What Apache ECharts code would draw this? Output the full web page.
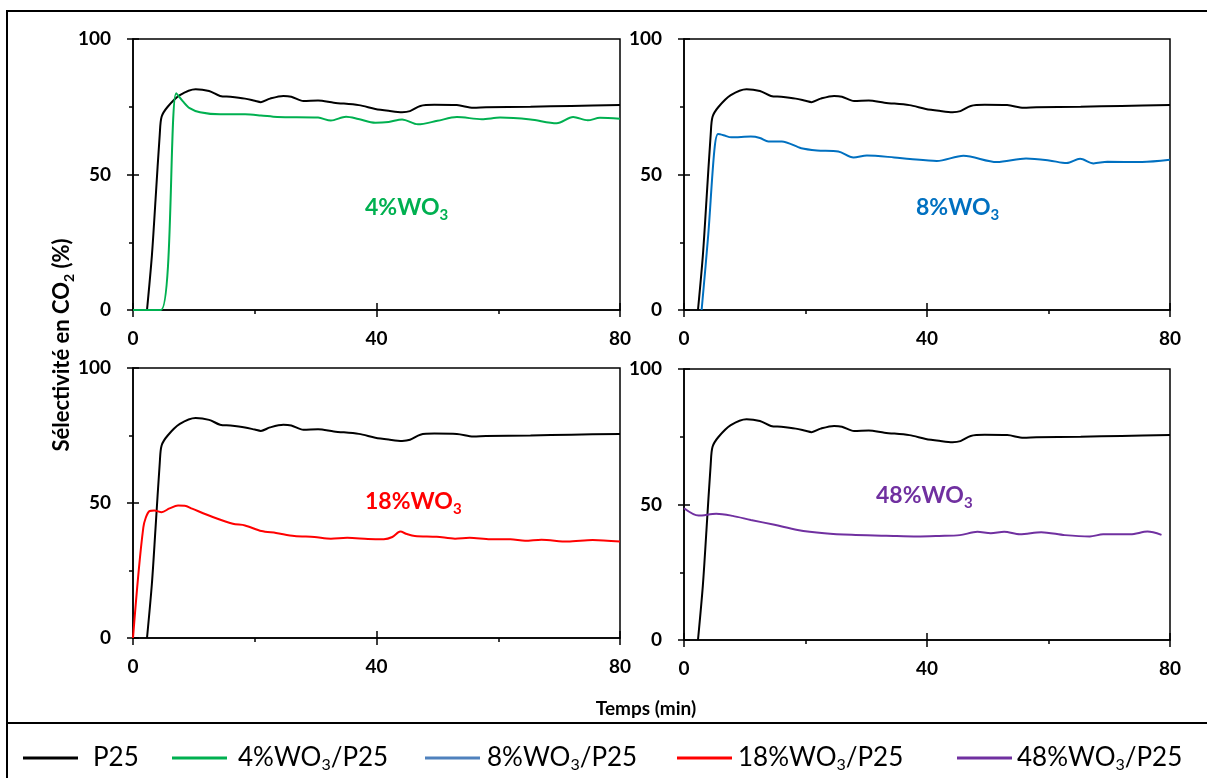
<!DOCTYPE html>
<html><head><meta charset="utf-8">
<script src="https://cdn.jsdelivr.net/npm/echarts@6/dist/echarts.min.js"></script>
<style>html,body{margin:0;padding:0;background:#fff}#c{width:1207px;height:778px}</style>
</head><body><div id="c"></div>
<script>
// ---- data (time in min, selectivity in %) ----
const p25T = [2.3, 3.1, 3.7, 4.4, 4.7, 5.7, 7.7, 10.3, 12.5, 14.3, 16, 18.4, 20, 21, 22.5, 24.7, 26, 28, 30.4, 33, 37.1, 39.8, 42, 44.2, 45.5, 47.2, 49.5, 53.2, 55.9, 58, 65.3, 72, 80];
const p25V = [0, 20, 40.6, 65, 71.3, 75, 79.3, 81.5, 80.8, 79, 78.7, 78, 77.2, 76.7, 78, 79, 78.7, 77.1, 77.3, 76.5, 75.6, 74.2, 73.5, 73, 73.4, 75.3, 75.7, 75.6, 74.6, 74.8, 75, 75.3, 75.6];

const wo4T = [0, 4.6, 7.1, 8.2, 9.3, 11, 14.3, 18.4, 21, 23.7, 30.4, 32.5, 35, 37, 39.8, 42, 44.2, 46.8, 50, 53.2, 57.3, 60.3, 65.3, 69.6, 72.3, 74.7, 76.7, 80];
const wo4V = [0, 0, 80, 77, 74.5, 73, 72.2, 72.2, 71.8, 71.2, 71, 69.9, 71.3, 70.5, 69.1, 69.4, 70.3, 68.5, 69.8, 71.2, 70.4, 71, 70.3, 68.9, 71.2, 70.0, 70.9, 70.6];

const wo8T = [2.9, 4.0, 5.0, 5.6, 6.5, 7.8, 11, 12.5, 13.9, 16.1, 19.3, 21.9, 25.4, 27.9, 30.1, 34.6, 37.2, 41.6, 46, 51.5, 56.3, 60.1, 63, 65.2, 67.4, 69.7, 75.4, 80];
const wo8V = [0, 28, 59, 64.9, 64.5, 63.7, 64, 63.5, 62.2, 62.2, 59.7, 58.9, 58.5, 56.3, 57, 56.3, 55.7, 55, 56.9, 54.6, 55.9, 55.2, 54.2, 55.8, 54.1, 54.7, 54.6, 55.4];

const wo18T = [0, 1.7, 2.7, 3.5, 4.7, 6, 7.4, 8.5, 9.7, 13.1, 16.4, 18.4, 21.1, 23.5, 26.5, 29.8, 32.5, 35.2, 38.6, 41.2, 42.6, 43.9, 45, 46.3, 49.9, 52.9, 55.3, 58.7, 62, 64.4, 67.1, 71.4, 75.5, 80];
const wo18V = [0, 41, 47, 47.2, 46.6, 48, 49.1, 49, 47.9, 44.8, 42.3, 41.7, 39.6, 38.9, 37.8, 37.4, 36.8, 37.1, 36.7, 36.6, 37.4, 39.4, 38.5, 37.8, 37.5, 36.8, 37.1, 36.6, 36.6, 36, 36.4, 35.7, 36.3, 35.7];

const wo48T = [0, 2.4, 5.3, 8, 11, 14.9, 18.7, 23.1, 27.6, 33.3, 38.4, 42, 45.4, 48.3, 50.5, 52.7, 55.3, 58.8, 62.7, 66.8, 69, 73.5, 76.3, 78.6];
const wo48V = [48.6, 45.9, 46.6, 45.8, 44.3, 42.5, 40.6, 39.4, 38.8, 38.5, 38.2, 38.4, 38.7, 39.9, 39.4, 39.9, 39, 39.8, 38.7, 38.2, 39, 39, 40, 38.8];

const seriesNames = ['P25', '4%WO3/P25', '8%WO3/P25', '18%WO3/P25', '48%WO3/P25'];
const panelLabels = ['4%WO3', '8%WO3', '18%WO3', '48%WO3'];
const xMin = 0, xMax = 80, xStep = 40;
const yMin = 0, yMax = 100, yStep = 50;
const yTitle = 'Sélectivité en CO2 (%)';
const xTitle = 'Temps (min)';

// ---- styling / layout ----
const lineColors = ['#000000', '#00B050', '#0070C0', '#FF0000', '#7030A0'];
const legendColors = ['#000000', '#00B050', '#4F81BD', '#FF0000', '#7030A0'];
const labelColors = ['#00B050', '#0070C0', '#FF0000', '#7030A0'];
const grids = [
  {left: 133, top: 39, width: 487, height: 271},
  {left: 684, top: 39, width: 486, height: 271},
  {left: 133, top: 368, width: 487, height: 270},
  {left: 684, top: 369, width: 486, height: 271}
];
const labelPos = [[365, 208], [916, 208], [365, 502], [876, 496]];
const legendLeft = [23, 172, 425, 677, 957];
const legendPad = [10, 6, 2, 1, 0];
const FONT = 'Lato';

const pairs = (t, v) => t.map((x, i) => [x, v[i]]);
const colored = [pairs(wo4T, wo4V), pairs(wo8T, wo8V), pairs(wo18T, wo18V), pairs(wo48T, wo48V)];
const p25 = pairs(p25T, p25V);

function subRich(str) {
  // e.g. "4%WO3/P25" -> rich text with the digit after "WO"/"CO" as subscript
  return '{a|' + str.replace(/(WO|CO)(\d)/g, '$1}{s|$2}{a|') + '}';
}

const axisLineStyle = {color: '#000', width: 1.5};
const tickLabel = {fontFamily: FONT, fontWeight: 'bold', fontSize: 19, color: '#000'};

const xAxes = [], yAxes = [], series = [];
grids.forEach((g, i) => {
  xAxes.push({
    type: 'value', gridIndex: i, min: xMin, max: xMax, interval: xStep, position: 'bottom',
    axisLine: {show: true, onZero: false, lineStyle: axisLineStyle},
    axisTick: {show: true, inside: false, length: 7, lineStyle: axisLineStyle},
    minorTick: {show: true, splitNumber: 2, length: 4, lineStyle: axisLineStyle},
    axisLabel: Object.assign({margin: 19}, tickLabel),
    splitLine: {show: false}, minorSplitLine: {show: false}
  });
  xAxes.push({
    type: 'value', gridIndex: i, min: xMin, max: xMax, interval: xStep, position: 'bottom',
    axisLine: {show: false, onZero: false},
    axisTick: {show: true, inside: true, length: 7, lineStyle: axisLineStyle},
    axisLabel: {show: false}, splitLine: {show: false}
  });
  yAxes.push({
    type: 'value', gridIndex: i, min: yMin, max: yMax, interval: yStep, position: 'left',
    axisLine: {show: true, onZero: false, lineStyle: axisLineStyle},
    axisTick: {show: true, inside: false, length: 6, lineStyle: axisLineStyle},
    minorTick: {show: true, splitNumber: 2, length: 4, lineStyle: axisLineStyle},
    axisLabel: Object.assign({margin: 22}, tickLabel),
    splitLine: {show: false}, minorSplitLine: {show: false}
  });
  yAxes.push({
    type: 'value', gridIndex: i, min: yMin, max: yMax, interval: yStep, position: 'left',
    axisLine: {show: false, onZero: false},
    axisTick: {show: true, inside: true, length: 6, lineStyle: axisLineStyle},
    axisLabel: {show: false}, splitLine: {show: false}
  });
  series.push({
    name: seriesNames[0], type: 'line', xAxisIndex: 2 * i, yAxisIndex: 2 * i,
    data: p25, showSymbol: false, smooth: 0.3,
    itemStyle: {color: legendColors[0]}, lineStyle: {color: lineColors[0], width: 2}
  });
  series.push({
    name: seriesNames[i + 1], type: 'line', xAxisIndex: 2 * i, yAxisIndex: 2 * i,
    data: colored[i], showSymbol: false, smooth: 0.3,
    itemStyle: {color: legendColors[i + 1]}, lineStyle: {color: lineColors[i + 1], width: 2}
  });
});

const legends = seriesNames.map((n, i) => ({
  data: [{name: n}], left: legendLeft[i], top: 745, padding: 0,
  icon: 'rect', itemWidth: 55, itemHeight: 3, selectedMode: false,
  itemStyle: {borderWidth: 0},
  formatter: (name) => subRich(name),
  textStyle: {
    padding: [0, 0, 0, legendPad[i]],
    rich: {
      a: {fontFamily: FONT, fontSize: 26, color: '#000', lineHeight: 30, verticalAlign: 'middle'},
      s: {fontFamily: FONT, fontSize: 16, color: '#000', lineHeight: 16, verticalAlign: 'bottom'}
    }
  }
}));

const graphics = [
  {type: 'line', shape: {x1: 7, y1: 11, x2: 7, y2: 778}, style: {stroke: '#000', lineWidth: 2}, silent: true},
  {type: 'line', shape: {x1: 6, y1: 11, x2: 1207, y2: 11}, style: {stroke: '#000', lineWidth: 2}, silent: true},
  {type: 'line', shape: {x1: 6, y1: 723, x2: 1207, y2: 723}, style: {stroke: '#000', lineWidth: 2}, silent: true},
  {type: 'text', x: 62, y: 345, rotation: Math.PI / 2, silent: true,
    style: {x: 0, y: 0, text: subRich(yTitle), align: 'center', verticalAlign: 'middle',
      rich: {
        a: {fontFamily: FONT, fontWeight: 'bold', fontSize: 22, fill: '#000', lineHeight: 28, verticalAlign: 'middle'},
        s: {fontFamily: FONT, fontWeight: 'bold', fontSize: 14, fill: '#000', lineHeight: 14, verticalAlign: 'bottom'}
      }}},
  {type: 'text', x: 646, y: 709, silent: true,
    style: {text: xTitle, align: 'center', verticalAlign: 'middle', fontFamily: FONT, fontWeight: 'bold', fontSize: 19, fill: '#000'}}
];
panelLabels.forEach((t, i) => {
  graphics.push({type: 'text', x: labelPos[i][0], y: labelPos[i][1], silent: true,
    style: {text: subRich(t), align: 'left', verticalAlign: 'middle',
      rich: {
        a: {fontFamily: FONT, fontWeight: 'bold', fontSize: 23, fill: labelColors[i], lineHeight: 30, verticalAlign: 'middle'},
        s: {fontFamily: FONT, fontWeight: 'bold', fontSize: 15, fill: labelColors[i], lineHeight: 15, verticalAlign: 'bottom'}
      }}});
});

const chart = echarts.init(document.getElementById('c'), null, {renderer: 'canvas'});
chart.setOption({
  animation: false,
  backgroundColor: '#fff',
  grid: grids.map(g => Object.assign({show: true, borderColor: '#000', borderWidth: 1.5, backgroundColor: 'transparent', containLabel: false}, g)),
  xAxis: xAxes,
  yAxis: yAxes,
  legend: legends,
  series: series,
  graphic: graphics
});
</script>
</body></html>
